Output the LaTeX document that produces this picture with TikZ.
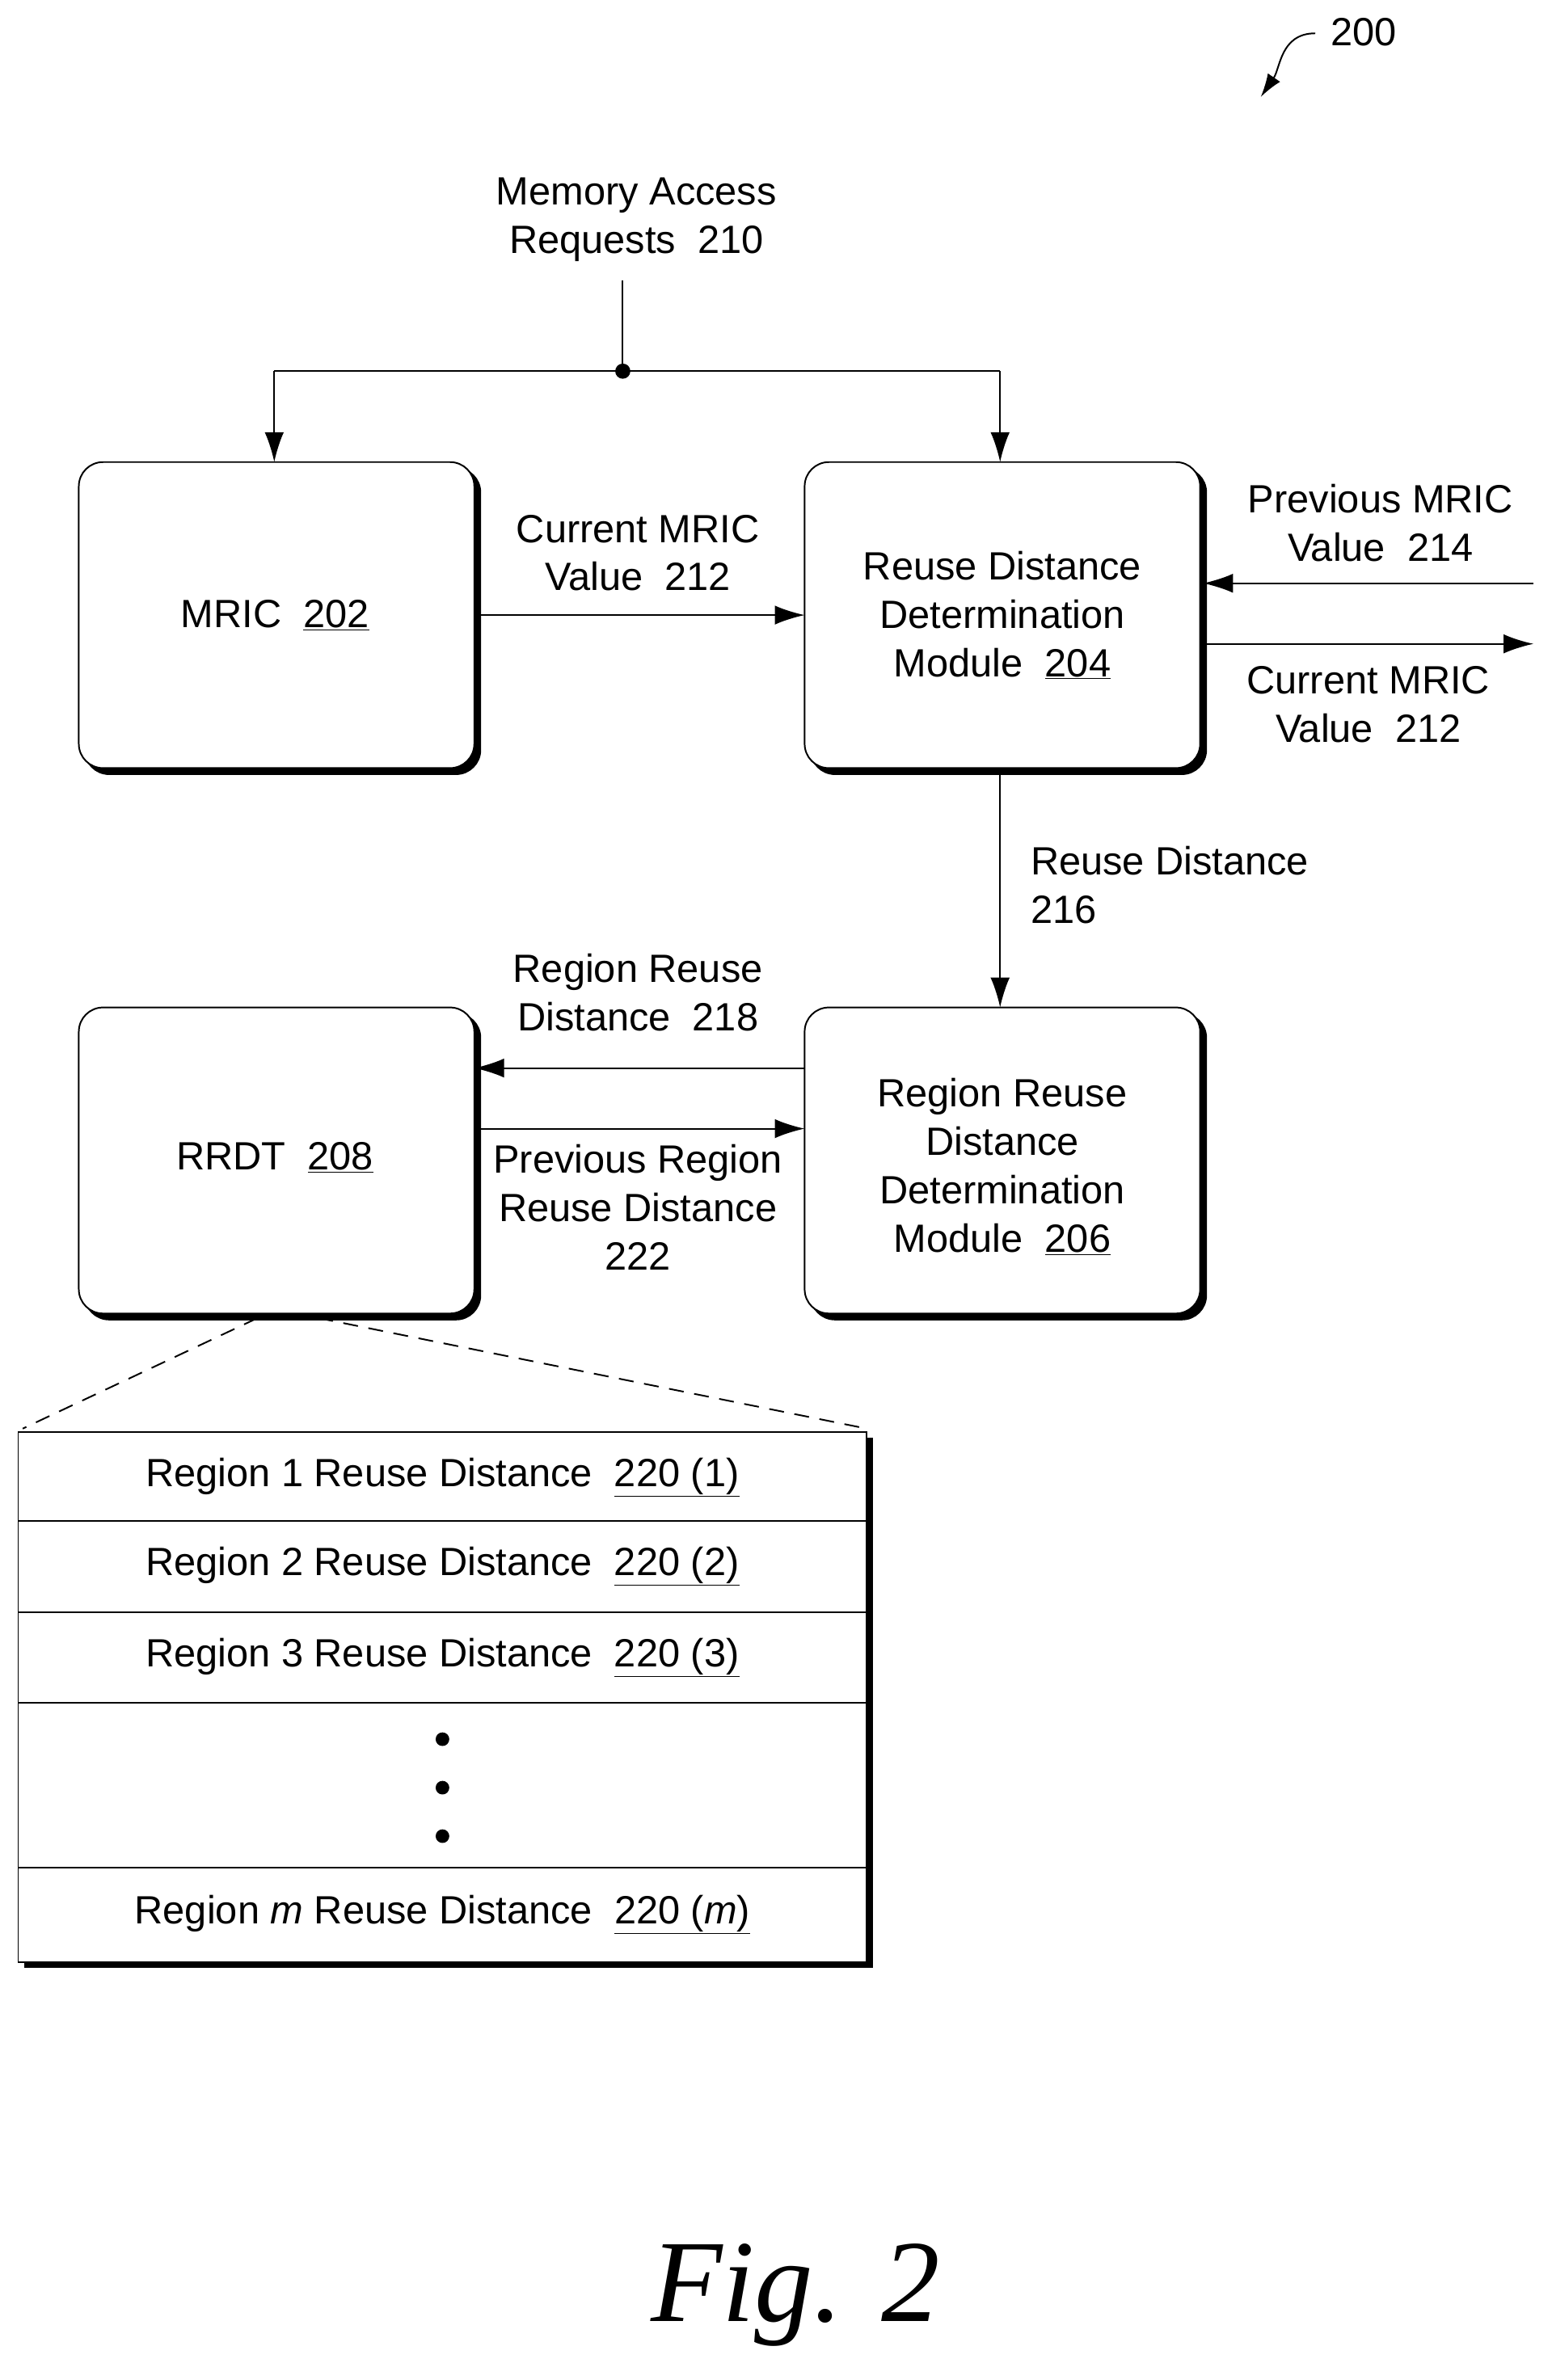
\documentclass[tikz,border=0pt]{standalone}
\usepackage{fontspec}
\setmainfont{Liberation Sans}
\newfontfamily\figfont{Liberation Serif}
\usetikzlibrary{arrows.meta}
\begin{document}
\begin{tikzpicture}[x=0.05cm,y=-0.05cm,
  every node/.style={font=\fontsize{37}{45.5}\selectfont,align=center,inner sep=0},
  line/.style={line width=1.5pt},
  arr/.style={line/.style, line width=1.5pt,-{Latex[length=28pt,width=18pt]}},
  box/.style={draw,line width=1.5pt,rounded corners=0.8cm,fill=white},
  shadow/.style={draw,line width=1.5pt,rounded corners=0.8cm,fill=black}]
\useasboundingbox (0,0) rectangle (1024,1571);
% 200
\node (n200) at (900,21) {200};
\coordinate (c200a) at (868,22);
\coordinate (c200b) at (832,64);
\draw[line width=1.5pt,-{Latex[length=22pt,width=14pt]}] (c200a) .. controls (845,22) and (845,45) .. (c200b);
% top
\node (mar) at (420,145) {Memory Access\\Requests~~210};
\coordinate (t0) at (411,185);
\coordinate (tj) at (411,245);
\coordinate (tl) at (181,245);
\coordinate (tr) at (660,245);
% boxes with shadows
\foreach \n/\x/\y in {mric/52/305, rddm/531/305, rrdt/52/665, rrdm/531/665}{
  \draw[shadow] (\x+4,\y+4) rectangle (\x+265,\y+206);
  \draw[box] (\x,\y) rectangle (\x+261,\y+202);
}
\node (mric) [minimum width=13.05cm,minimum height=10.1cm] at (181.5,406) {MRIC~~\underline{202}};
\node (rddm) [minimum width=13.05cm,minimum height=10.1cm] at (661.5,406) {Reuse Distance\\Determination\\Module~~\underline{204}};
\node (rrdt) [minimum width=13.05cm,minimum height=10.1cm] at (181.5,766) {};
\node at (181.5,764) {RRDT~~\underline{208}};
\node (rrdm) [minimum width=13.05cm,minimum height=10.1cm] at (661.5,770) {Region Reuse\\Distance\\Determination\\Module~~\underline{206}};
\draw[line] (t0) -- (tj);
\fill (tj) circle (5);
\draw[line] (tl) -- (tr);
\draw[arr] (tl) -- (181,305);
\draw[arr] (tr) -- (660,305);
% MRIC -> RDDM
\draw[arr] (313,406) -- (531,406);
\node (l212) at (421,365) {Current MRIC\\Value~~212};
% right side
\coordinate (pin) at (1012,385);
\coordinate (pout) at (1012,425);
\draw[arr] (pin) -- (794,385);
\draw[arr] (794,425) -- (pout);
\node (l214) at (911,345) {Previous MRIC\\Value~~214};
\node (l212b) at (903,465) {Current MRIC\\Value~~212};
% down
\draw[arr] (660,507) -- (660,665);
\node[align=left,anchor=west] (l216) at (680,584) {Reuse Distance\\216};
% between RRDT and RRDM
\draw[arr] (531,705) -- (313,705);
\draw[arr] (313,745) -- (531,745);
\node (l218) at (421,655) {Region Reuse\\Distance~~218};
\node (l222) at (421,797) {Previous Region\\Reuse Distance\\222};
% dashed
\coordinate (d1) at (15,943);
\coordinate (d2) at (572,943);
\draw[line,dash pattern=on 14pt off 10pt] (170,870) -- (d1);
\draw[line,dash pattern=on 14pt off 10pt] (210,870) -- (d2);
% table
\fill (16,949) rectangle (576,1299);
\draw[line,fill=white] (12,945) rectangle (572,1295);
\foreach \y in {1004,1064,1124,1233} \draw[line] (12,\y) -- (572,\y);
\node (r1) at (292,975) {Region 1 Reuse Distance~~\underline{220 (1)}};
\node (r2) at (292,1034) {Region 2 Reuse Distance~~\underline{220 (2)}};
\node (r3) at (292,1094) {Region 3 Reuse Distance~~\underline{220 (3)}};
\foreach \y in {1148,1180,1212} \fill (292,\y) circle (4.5);
\node (rm) at (292,1264) {Region \textit{m} Reuse Distance~~\underline{220 (\textit{m})}};
% fig
\node (fig) at (525,1515) {\figfont\itshape\fontsize{110}{110}\selectfont Fig. 2};
\end{tikzpicture}
\end{document}
